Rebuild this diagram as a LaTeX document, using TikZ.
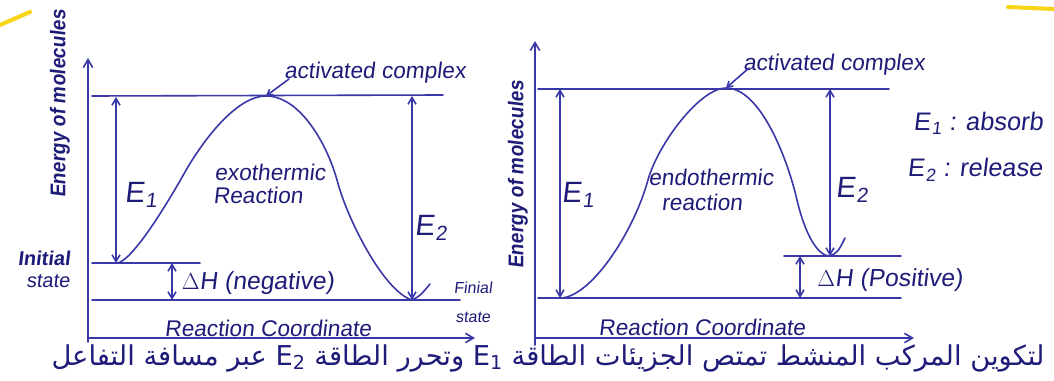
\documentclass[tikz,border=0pt]{standalone}
\usepackage{fontspec}
\setmainfont{Liberation Sans}
\newfontfamily\hand[FakeSlant=0.12]{Liberation Sans}
\newfontfamily\handn[FakeStretch=0.9,FakeSlant=0.12]{Liberation Sans}
\newfontfamily\arabicfont[Script=Arabic]{DejaVu Sans}
\TeXXeTstate=1
\usetikzlibrary{arrows.meta}
\definecolor{ink}{HTML}{1E1C78}
\definecolor{pen}{HTML}{3A38A8}
\definecolor{hl}{HTML}{F7D416}
\tikzset{
  pen/.style={draw=pen, line width=1.2pt, line cap=round},
  axis/.style={pen, -{Straight Barb[length=6pt,width=7pt]}},
  dbl/.style={pen, {Straight Barb[length=5pt,width=6pt]}-{Straight Barb[length=5pt,width=6pt]}},
  tip/.style={pen, -{Straight Barb[length=4pt,width=5pt]}},
  lbl/.style={text=ink, font=\hand\fontsize{17}{18}\selectfont, inner sep=0pt},
  dh/.style={text=ink, font=\hand\fontsize{18.5}{19}\selectfont, inner sep=0pt},
  small/.style={text=ink, font=\hand\fontsize{12}{13}\selectfont, inner sep=0pt},
  side/.style={text=ink, font=\hand\fontsize{15}{16}\selectfont, inner sep=0pt},
  big/.style={text=ink, font=\hand\fontsize{22}{24}\selectfont, inner sep=0pt},
  key/.style={text=ink, font=\hand\fontsize{19}{20}\selectfont, inner sep=0pt, anchor=west},
  ylab/.style={text=ink, font=\handn\bfseries\fontsize{16}{17}\selectfont, inner sep=0pt, rotate=90},
  hlstroke/.style={draw=hl, line width=3pt, line cap=round},
}
\begin{document}
\begin{tikzpicture}[x=0.75pt,y=-0.75pt]
\useasboundingbox (0,0) rectangle (1054,381);
\fill[white] (0,0) rectangle (1054,381);
% highlighter marks
\coordinate (h1a) at (0,25); \coordinate (h1b) at (30,12);
\coordinate (h2a) at (1008,7); \coordinate (h2b) at (1054,9);
\draw[hlstroke] (h1a) -- (h1b);
\draw[hlstroke] (h2a) -- (h2b);

%%%%%%%%%%%%%%%% LEFT: exothermic
\coordinate (Lyb) at (88,342); \coordinate (Lyt) at (88,58);
\coordinate (Lxa) at (88,338); \coordinate (Lxb) at (475,338);
\draw[axis] (Lyb) -- (Lyt);
\draw[axis] (Lxa) -- (Lxb);
\coordinate (Lt1) at (92,96); \coordinate (Lt2) at (443,95);
\coordinate (Li1) at (92,263); \coordinate (Li2) at (200,263);
\coordinate (Lf1) at (92,300); \coordinate (Lf2) at (460,300);
\draw[pen] (Lt1) -- (Lt2);
\draw[pen] (Li1) -- (Li2);
\draw[pen] (Lf1) -- (Lf2);
\coordinate (LE1t) at (116,97); \coordinate (LE1b) at (116,263);
\coordinate (LHt) at (172,263); \coordinate (LHb) at (172,300);
\coordinate (LE2t) at (412,96); \coordinate (LE2b) at (412,300);
\draw[dbl] (LE1t) -- (LE1b);
\draw[dbl] (LHt) -- (LHb);
\draw[dbl] (LE2t) -- (LE2b);
\coordinate (Ls) at (118,263); \coordinate (Lpk) at (266,96); \coordinate (Le) at (412,300);
\draw[pen] (Ls) .. controls (135,258) and (171,197) .. (185,172)
  .. controls (202,142) and (236,96) .. (Lpk)
  .. controls (300,96) and (327,144) .. (337,180)
  .. controls (348,222) and (385,292) .. (Le)
  .. controls (420,296) .. (430,284);
\node[lbl] (Lac) at (375,73) {activated complex};
\coordinate (Lacs) at (289,79);
\draw[tip] (Lacs) -- (Lpk);
\node[ylab] (Lyl) at (60,104) {Energy of molecules};
\node[lbl] (Lexo) at (270,172) {exothermic};
\node[lbl] (Lrea) at (258,195) {Reaction};
\node[big] (LE1) at (141,195) {E\kern1pt\textsubscript{1}};
\node[big] (LE2) at (431,228) {E\kern1pt\textsubscript{2}};
\node[side, font=\hand\bfseries\fontsize{15}{16}\selectfont] (Lini) at (44,258) {Initial};
\node[side] (Lst) at (48,281) {state};
\node[dh] (LdH) at (258,283) {$\Delta$H (negative)};
\node[small] (Lfin) at (473,288) {Finial};
\node[small] (Lfst) at (473,317) {state};
\node[lbl] (Lrc) at (268,328) {Reaction Coordinate};

%%%%%%%%%%%%%%%% RIGHT: endothermic
\coordinate (Ryb) at (535,345); \coordinate (Ryt) at (535,41);
\coordinate (Rxa) at (535,338); \coordinate (Rxb) at (914,338);
\draw[axis] (Ryb) -- (Ryt);
\draw[axis] (Rxa) -- (Rxb);
\coordinate (Rt1) at (538,89); \coordinate (Rt2) at (889,89);
\coordinate (Rb1) at (538,298); \coordinate (Rb2) at (901,298);
\coordinate (Rp1) at (784,256); \coordinate (Rp2) at (901,256);
\draw[pen] (Rt1) -- (Rt2);
\draw[pen] (Rb1) -- (Rb2);
\draw[pen] (Rp1) -- (Rp2);
\coordinate (RE1t) at (560,89); \coordinate (RE1b) at (560,298);
\coordinate (RHt) at (800,256); \coordinate (RHb) at (800,298);
\coordinate (RE2t) at (830,89); \coordinate (RE2b) at (830,256);
\draw[dbl] (RE1t) -- (RE1b);
\draw[dbl] (RHt) -- (RHb);
\draw[dbl] (RE2t) -- (RE2b);
\coordinate (Rs) at (560,298); \coordinate (Rpk) at (726,88); \coordinate (Re) at (830,256);
\draw[pen] (Rs) .. controls (590,298) and (633,234) .. (648,180)
  .. controls (658,144) and (700,88) .. (Rpk)
  .. controls (760,88) and (787,157) .. (797,200)
  .. controls (803,226) and (815,256) .. (Re)
  .. controls (838,252) .. (845,238);
\node[lbl] (Rac) at (834,65) {activated complex};
\coordinate (Racs) at (749,68);
\draw[tip] (Racs) -- (Rpk);
\node[ylab] (Ryl) at (518,175) {Energy of molecules};
\node[lbl] (Rendo) at (711,177) {endothermic};
\node[lbl] (Rrea) at (702,202) {reaction};
\node[big] (RE1) at (578,195) {E\kern1pt\textsubscript{1}};
\node[big] (RE2) at (852,190) {E\kern1pt\textsubscript{2}};
\node[dh] (RdH) at (890,280) {$\Delta$H (Positive)};
\node[lbl] (Rrc) at (702,327) {Reaction Coordinate};
\node[key] (Kab) at (913,123) {E\kern1pt\textsubscript{1} : absorb};
\node[key] (Krel) at (907,170) {E\kern1pt\textsubscript{2} : release};

%%%%%%%%%%%%%%%% Arabic caption
\node[text=ink, inner sep=0pt, font=\arabicfont\fontsize{20.5}{22}\selectfont] (cap) at (548,358)
  {\beginR لتكوين المركب المنشط تمتص الجزيئات الطاقة \beginL E\textsubscript{1}\endL{} وتحرر الطاقة \beginL E\textsubscript{2}\endL{} عبر مسافة التفاعل\endR};
\end{tikzpicture}
\end{document}
